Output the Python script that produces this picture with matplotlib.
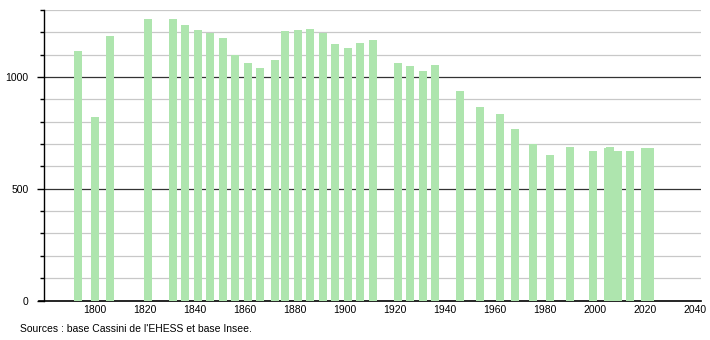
import matplotlib as mpl
mpl.use('Agg')
import matplotlib.pyplot as plt
from matplotlib.ticker import MultipleLocator

years = [1793, 1800, 1806, 1821, 1831, 1836, 1841, 1846, 1851, 1856,
         1861, 1866, 1872, 1876, 1881, 1886, 1891, 1896, 1901, 1906,
         1911, 1921, 1926, 1931, 1936, 1946, 1954, 1962, 1968, 1975,
         1982, 1990, 1999, 2005, 2006, 2009, 2014, 2020, 2021, 2022]
population = [1115, 819, 1185, 1261, 1261, 1234, 1212, 1197, 1175, 1097,
              1063, 1040, 1077, 1204, 1210, 1215, 1195, 1148, 1130, 1152,
              1167, 1063, 1049, 1028, 1054, 938, 864, 836, 768, 700,
              649, 686, 670, 684, 688, 670, 670, 683, 683, 683]
x_ticks = list(range(1800, 2041, 20))
y_major = [0, 500, 1000]
source = "Sources : base Cassini de l'EHESS et base Insee."

plt.rcParams['font.family'] = ['Liberation Sans', 'DejaVu Sans']

fig = plt.figure(figsize=(7.1, 3.4), dpi=100)
ax = fig.add_axes([0.062, 0.116, 0.925, 0.855])

ax.bar(years, population, width=3.2, color='#aee5ae', zorder=3)

ax.set_xlim(1779.6, 2042.3)
ax.set_ylim(0, 1300)

# light grid every 100, dark lines at 500 / 1000
for v in range(100, 1301, 100):
  if v % 500 == 0:
    ax.axhline(v, color='#333333', lw=0.9, zorder=1)
  else:
    ax.axhline(v, color='#c8c8c8', lw=0.9, zorder=1)

ax.set_xticks(x_ticks)
ax.set_yticks(y_major)
ax.yaxis.set_minor_locator(MultipleLocator(100))
ax.tick_params(axis='x', length=0, labelsize=7.5, pad=3)
ax.tick_params(axis='y', which='major', length=5, width=1, labelsize=7.5, pad=6)
ax.tick_params(axis='y', which='minor', length=3, width=1)

for s in ['top', 'right']:
  ax.spines[s].set_visible(False)
ax.spines['left'].set_linewidth(1)
ax.spines['bottom'].set_linewidth(1.2)
ax.spines['bottom'].set_bounds(1779.6 - 2, 2042.3)

fig.text(20 / 710, 1 - 329 / 340, source, fontsize=7.5, va='center', ha='left')

fig.savefig('out.png', dpi=100)
